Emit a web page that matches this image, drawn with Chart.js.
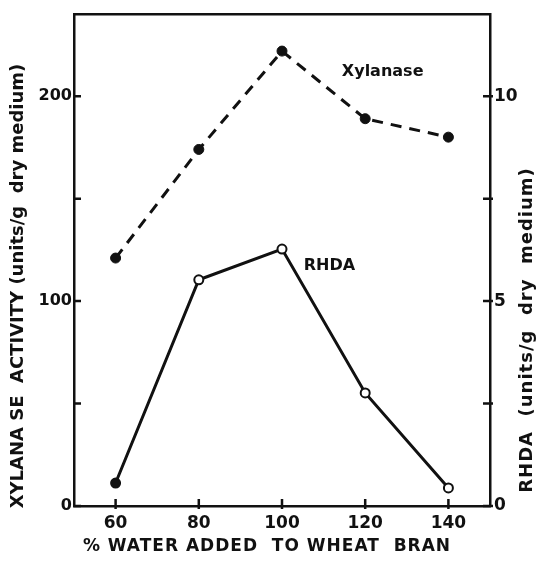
<!DOCTYPE html>
<html>
<head>
<meta charset="utf-8">
<script src="https://cdn.jsdelivr.net/npm/chart.js@4.4.0/dist/chart.umd.min.js"></script>
<style>
  html, body { margin: 0; padding: 0; background: #fff; }
  #wrap { width: 546px; height: 564px; }
</style>
</head>
<body>
<div id="wrap"><canvas id="myChart" width="546" height="564"></canvas></div>
<script>
// % water added to wheat bran
var waterPct = [60, 80, 100, 120, 140];
// xylanase activity (units/g dry medium), left axis
var xylanase = [121, 174, 222, 189, 180];
// RHDA (units/g dry medium), right axis
var rhda = [0.56, 5.52, 6.27, 2.76, 0.44];

var xTicks = [60, 80, 100, 120, 140];
var leftTicks = [0, 50, 100, 150, 200];
var leftLabels = [0, 100, 200];
var rightTicks = [0, 2.5, 5, 7.5, 10];
var rightLabels = [0, 5, 10];

var FONT = "'DejaVu Sans', 'Liberation Sans', sans-serif";
var INK = "#111";

function pts(xs, ys) {
  var out = [];
  for (var i = 0; i < xs.length; i++) out.push({ x: xs[i], y: ys[i] });
  return out;
}

// inward tick marks, top border, titles and in-plot labels
var decor = {
  id: "decor",
  afterDraw: function (chart) {
    var ctx = chart.ctx;
    var a = chart.chartArea;
    var sx = chart.scales.x, sl = chart.scales.yL, sr = chart.scales.yR;
    ctx.save();
    ctx.strokeStyle = INK;
    ctx.lineWidth = 2.5;
    // top border
    ctx.beginPath();
    ctx.moveTo(a.left, a.top);
    ctx.lineTo(a.right, a.top);
    ctx.stroke();
    var len = 7;
    ctx.beginPath();
    xTicks.forEach(function (v) {
      var p = sx.getPixelForValue(v);
      ctx.moveTo(p, a.bottom + 3);
      ctx.lineTo(p, a.bottom - len);
    });
    leftTicks.forEach(function (v) {
      var p = sl.getPixelForValue(v);
      ctx.moveTo(a.left, p);
      ctx.lineTo(a.left + len, p);
    });
    rightTicks.forEach(function (v) {
      var p = sr.getPixelForValue(v);
      ctx.moveTo(a.right + 3, p);
      ctx.lineTo(a.right - len, p);
    });
    ctx.stroke();

    ctx.fillStyle = INK;
    ctx.textAlign = "center";
    ctx.textBaseline = "middle";
    // axis titles
    ctx.save();
    ctx.font = "bold 17px " + FONT;
    ctx.letterSpacing = "1px";
    ctx.fillText("% WATER ADDED  TO WHEAT  BRAN", 267, 547);
    ctx.restore();

    ctx.font = "bold 18px " + FONT;
    ctx.save();
    ctx.translate(18, 286);
    ctx.rotate(-Math.PI / 2);
    ctx.fillText("XYLANA SE  ACTIVITY (units/g  dry medium)", 0, 0);
    ctx.restore();

    ctx.save();
    ctx.translate(527, 330);
    ctx.rotate(-Math.PI / 2);
    ctx.letterSpacing = "1px";
    ctx.fillText("RHDA  (units/g  dry  medium)", 0, 0);
    ctx.restore();

    // series labels
    ctx.font = "bold 16px " + FONT;
    ctx.fillText("Xylanase", sx.getPixelForValue(124.2), sl.getPixelForValue(212));
    ctx.fillText("RHDA", sx.getPixelForValue(111.4), sl.getPixelForValue(117));
    ctx.restore();
  }
};

var ctx = document.getElementById("myChart").getContext("2d");
var chart = new Chart(ctx, {
  type: "scatter",
  data: {
    datasets: [
      {
        label: "Xylanase",
        data: pts(waterPct, xylanase),
        yAxisID: "yL",
        showLine: true,
        borderColor: INK,
        borderWidth: 3,
        borderDash: [11, 8],
        pointRadius: 5,
        pointBackgroundColor: INK,
        pointBorderColor: INK,
        pointBorderWidth: 1
      },
      {
        label: "RHDA",
        data: pts(waterPct, rhda),
        yAxisID: "yR",
        showLine: true,
        borderColor: INK,
        borderWidth: 3,
        pointRadius: 4.5,
        pointBackgroundColor: [INK, "#fff", "#fff", "#fff", "#fff"],
        pointBorderColor: INK,
        pointBorderWidth: 2
      }
    ]
  },
  options: {
    responsive: false,
    animation: false,
    layout: { padding: { top: 9, left: 0, right: 0, bottom: 0 } },
    plugins: {
      legend: { display: false },
      tooltip: { enabled: false }
    },
    scales: {
      x: {
        type: "linear",
        min: 50,
        max: 150,
        afterBuildTicks: function (s) {
          s.ticks = xTicks.map(function (v) { return { value: v }; });
        },
        afterFit: function (s) { s.height = 58; },
        grid: { drawOnChartArea: false, drawTicks: false },
        border: { color: INK, width: 2.5 },
        ticks: {
          padding: 7,
          color: INK,
          font: { family: FONT, size: 17, weight: "bold" }
        }
      },
      yL: {
        type: "linear",
        position: "left",
        min: 0,
        max: 240,
        afterBuildTicks: function (s) {
          s.ticks = leftTicks.map(function (v) { return { value: v }; });
        },
        afterFit: function (s) { s.width = 74; },
        grid: { drawOnChartArea: false, drawTicks: false },
        border: { color: INK, width: 2.5 },
        ticks: {
          padding: 2,
          color: INK,
          font: { family: FONT, size: 16, weight: "bold" },
          callback: function (v) { return leftLabels.indexOf(v) >= 0 ? String(v) : ""; }
        }
      },
      yR: {
        type: "linear",
        position: "right",
        min: 0,
        max: 12,
        afterBuildTicks: function (s) {
          s.ticks = rightTicks.map(function (v) { return { value: v }; });
        },
        afterFit: function (s) { s.width = 56; },
        grid: { drawOnChartArea: false, drawTicks: false },
        border: { color: INK, width: 2.5 },
        ticks: {
          padding: 4,
          color: INK,
          font: { family: FONT, size: 17, weight: "bold" },
          callback: function (v) { return rightLabels.indexOf(v) >= 0 ? String(v) : ""; }
        }
      }
    }
  },
  plugins: [decor]
});
</script>
</body>
</html>
